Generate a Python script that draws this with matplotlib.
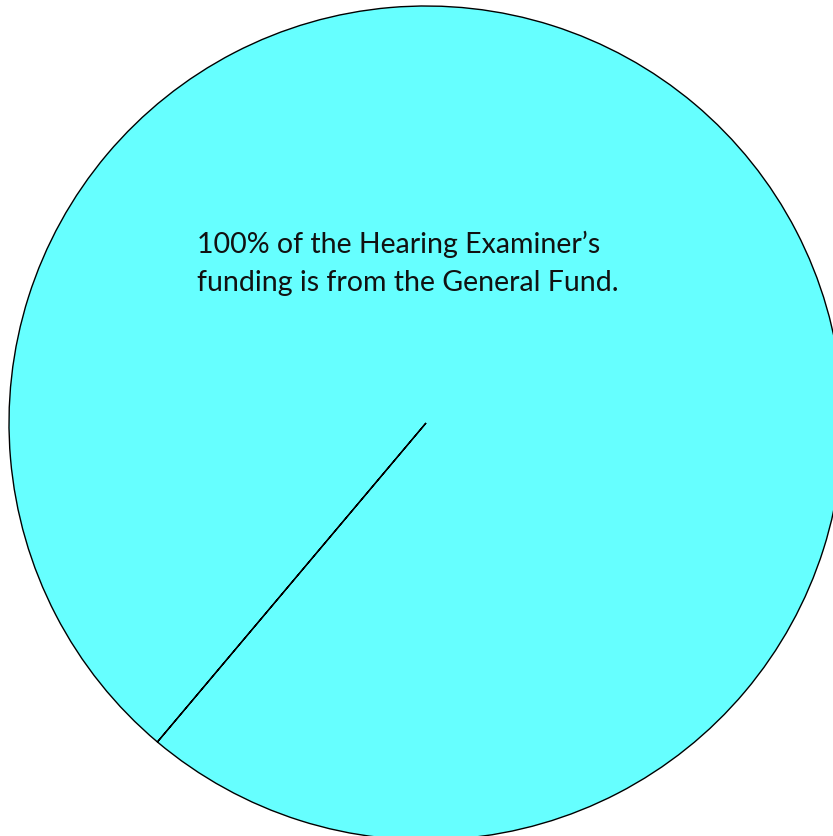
import matplotlib
matplotlib.use("Agg")
import matplotlib.pyplot as plt

labels = ["General Fund"]
shares = [100]
colors = ["#66FFFF"]
note = "100% of the Hearing Examiner\u2019s\nfunding is from the General Fund."

W, H = 833, 837
fig = plt.figure(figsize=(W / 100, H / 100), dpi=100)
ax = fig.add_axes([0, 0, 1, 1])

ax.pie(shares, colors=colors, center=(426, H - 424), radius=417,
       startangle=229.9, counterclock=True,
       wedgeprops=dict(edgecolor="black", linewidth=1.0), frame=True)
ax.set_xlim(0, W)
ax.set_ylim(0, H)
ax.set_aspect("equal")
ax.axis("off")

ax.text(197, H - 231, note, ha="left", va="top", fontsize=20.5, family="Lato",
        color="#111111", linespacing=1.55)

fig.savefig("out.png", dpi=100)
